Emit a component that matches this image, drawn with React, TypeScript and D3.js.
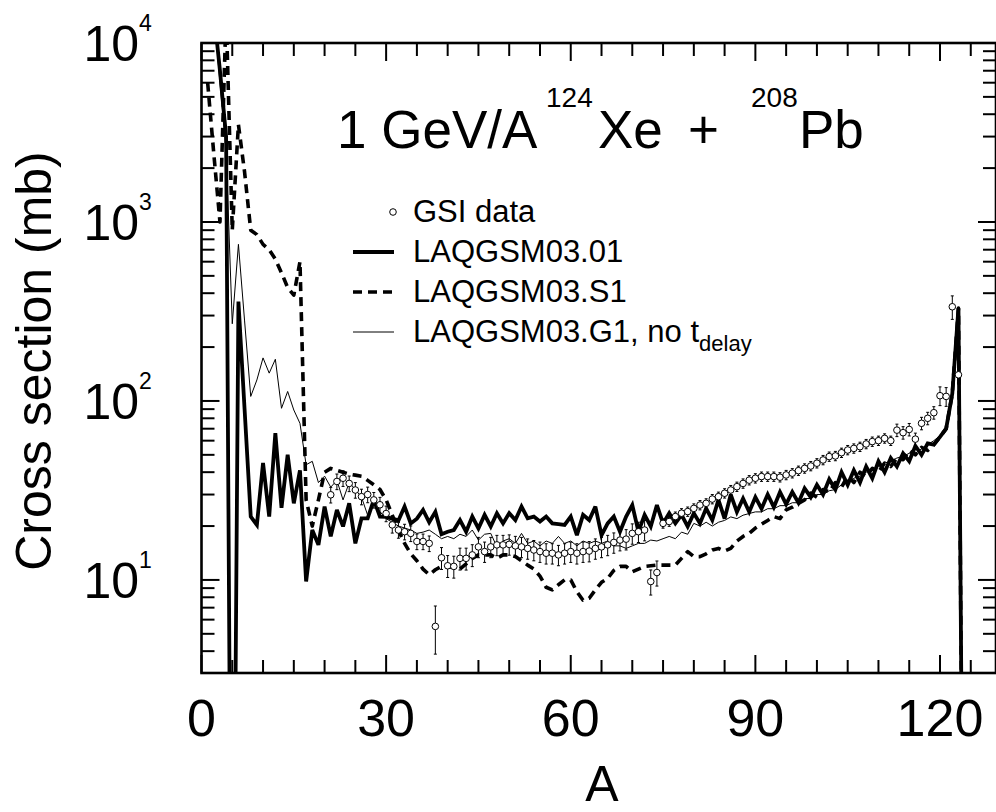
import React from "react";
import * as d3 from "d3";

// Mass numbers of the model curves (A = 1 ... 124)
const MASS_NUMBERS: number[] = d3.range(1, 125);

// LAQGSM03.01 (thick solid)
const LAQGSM_0301: number[] = [
  30000, 15000, 7000, 3000, 0.01, 359, 90, 22.6, 20.3, 45,
  22.6, 66, 25.3, 50, 26.8, 41, 9.8, 19, 15.7, 25.7,
  17.5, 24.6, 19.9, 26.8, 16, 22.1, 22.1, 28, 22.6, 22.5,
  22, 21.5, 25.7, 20.7, 22, 24.6, 21, 24, 18, 18.6,
  19, 21.6, 18.6, 22.6, 19.4, 23.1, 19.9, 23.6, 20.7, 23.6,
  21.6, 25.7, 22.1, 22.6, 21.2, 22.6, 20.7, 20.5, 20.3, 22.6,
  17.8, 23.1, 21.6, 25.7, 17.8, 20.7, 22.6, 18.6, 22.6, 26.2,
  18.6, 23.1, 19.9, 26.2, 20.7, 23.6, 20.7, 23.1, 19.9, 23.6,
  20.7, 25.1, 21.6, 28, 22, 30, 24, 28.5, 24, 29,
  25, 30, 25.5, 31, 26.5, 31, 27, 32.5, 29, 34,
  30, 36.5, 32, 40, 34, 41, 35, 43, 37, 46,
  40, 48, 43, 51, 46, 56, 50, 58, 57, 63,
  70, 110, 330, 0.01,
];

// LAQGSM03.S1 (thick dashed)
const LAQGSM_S1: number[] = [
  6000, 2400, 1000, 15000, 900, 3500, 1900, 900, 850, 750,
  700, 620, 520, 430, 390, 600, 28, 20, 28, 40,
  42, 41, 40, 39, 38.5, 38, 36, 34, 32, 28,
  23, 19, 16, 14, 12.8, 11.5, 10.7, 11.4, 11.9, 11.9,
  11.7, 11.5, 12.3, 13.2, 13.8, 13.8, 13.8, 13.2, 13.8, 13.8,
  13.5, 12.8, 12.1, 11.5, 10.5, 9.1, 8.8, 9.4, 10, 10,
  8.6, 7.7, 7.9, 8.8, 9.7, 10.2, 11.3, 11.9, 11.9, 11.1,
  11.5, 11.9, 12.0, 12.1, 12.1, 12.1, 12.1, 13.2, 14.4, 13.5,
  13.5, 14.0, 14.7, 15.0, 14.5, 15, 16.5, 17.5, 18.2, 19.5,
  20.5, 21.5, 22.6, 22, 24.6, 25.5, 26.8, 28, 30.6, 29,
  32, 31, 35, 33, 38, 35, 40, 38, 42, 40,
  45, 43, 48, 47, 53, 50, 55, 53, 57, 63,
  70, 110, 330, 0.01,
];

// LAQGSM03.G1, no t_delay (thin solid)
const LAQGSM_G1: number[] = [
  30000, 15000, 6000, 2500, 270, 750, 280, 106, 131, 174,
  143, 171, 91, 113, 89, 75, 44, 46, 35, 38,
  33, 36, 28, 35, 32, 29, 23, 27, 24, 22,
  21, 20, 19.5, 19, 18.2, 18.5, 19, 18, 17, 17.5,
  17, 18, 17.5, 19, 16.7, 18, 18.2, 15.3, 16.5, 17,
  16, 18.2, 16, 16.5, 15.5, 16.5, 16, 17.5, 16, 16.5,
  15.5, 16.5, 16, 16.5, 16, 16.5, 15.5, 15.5, 15, 15.5,
  16, 16, 16.7, 16.5, 17, 17.5, 17, 18.5, 18, 20.7,
  20, 21, 20, 21, 21.5, 22.5, 22, 23, 23.5, 24,
  24, 25, 25, 26, 26, 27, 27, 28.5, 28.5, 30,
  30, 31.5, 32, 34, 35, 37, 38, 40, 41, 43,
  45, 46, 48, 49, 51, 51, 54, 57, 60, 64,
  69, 105, 320, 0.01,
];

// GSI data (A = 21 ... 123)
const GSI_A: number[] = d3.range(21, 124);
const GSI_VALUES: number[] = [
  29.9, 35.5, 37, 34.6, 31.8, 29.2, 30, 28, 26.3, 23.5,
  20.3, 19, 18.6, 18.2, 16.4, 16.4, 16.0, 5.5, 13.3, 12.0,
  11.9, 13.2, 13.2, 13.8, 15.3, 14.4, 15.3, 15.7, 15.7, 15.8,
  15.5, 15.3, 15.0, 14.7, 14.4, 14.1, 14.1, 13.8, 14.1, 14.4,
  14.1, 14.4, 14.5, 15.0, 15.3, 15.7, 16.2, 16.7, 16.9, 18.2,
  18.6, 19.0, 9.8, 11.0, 20.7, 21.2, 22.6, 23.6, 24.1, 25.1,
  26.2, 26.8, 28.3, 29.2, 30.5, 31.8, 33.2, 34.6, 36.1, 37.0,
  37.8, 37.8, 37.8, 37.5, 38.6, 39.5, 40.8, 42, 43.3, 44.9,
  46.8, 48.9, 49.3, 51.4, 53.2, 54.3, 55.5, 57.5, 59.3, 60,
  61.8, 60, 68.7, 66.5, 69.3, 61.2, 75, 80, 86, 107,
  106, 336, 140,
];
// relative errors in percent
const GSI_ERR_PCT: number[] = [
  10, 10, 10, 10, 10, 10, 10, 10, 10, 10,
  10, 10, 10, 10, 10, 10, 10, 30, 14, 14,
  14, 14, 14, 14, 13, 13, 13, 13, 13, 13,
  13, 13, 13, 13, 13, 13, 13, 13, 13, 13,
  13, 13, 13, 13, 13, 13, 13, 13, 13, 13,
  13, 13, 16, 16, 6, 6, 6, 6, 6, 6,
  6, 6, 6, 6, 6, 6, 6, 6, 6, 6,
  6, 6, 6, 6, 6, 6, 6, 6, 6, 6,
  6, 6, 6, 6, 6, 6, 6, 6, 6, 6,
  6, 6, 8, 8, 8, 8, 8, 8, 8, 12,
  12, 15, 10,
];

const X_TICK_LABELS: number[] = [0, 30, 60, 90, 120];
const Y_DECADE_EXPONENTS: number[] = [1, 2, 3, 4];

const LEGEND_LABELS: string[] = ["GSI data", "LAQGSM03.01", "LAQGSM03.S1", "LAQGSM03.G1, no t"];

const FONT = "'Liberation Sans', Arial, Helvetica, sans-serif";

export default function App() {
  const W = 996;
  const H = 812;
  const left = 201.5;
  const right = 996;
  const top = 43;
  const bottom = 673;

  const x = d3.scaleLinear().domain([0, 129.1]).range([left, right]);
  const y = d3.scaleLog().domain([3.02, 10000]).range([bottom, top]);

  const line = d3
    .line<[number, number]>()
    .x((d) => x(d[0]))
    .y((d) => y(d[1]));

  const series = (vals: number[]) => MASS_NUMBERS.map((a, i) => [a, vals[i]] as [number, number]);

  const xMinor = d3.range(0, 130, 5);
  const yTicks = y.ticks();
  const isMajorY = (v: number) => Math.abs(Math.log10(v) - Math.round(Math.log10(v))) < 1e-9;

  const majorLen = 18;
  const minorLen = 13;

  const legX0 = 353;
  const legX1 = 394;
  const legText = 413;
  const legBase = [222, 262, 302, 342];

  return (
    <svg width={W} height={H} style={{ display: "block", position: "absolute", left: 0, top: 0, background: "#fff" }} fontFamily={FONT}>
      <defs>
        <clipPath id="plot-clip">
          <rect x={left} y={top} width={right - left} height={bottom - top} />
        </clipPath>
      </defs>
      <rect x={0} y={0} width={W} height={H} fill="#fff" />

      {/* ticks */}
      <g stroke="#000" strokeWidth={2}>
        {xMinor.map((v) => {
          const len = v % 30 === 0 ? majorLen : minorLen;
          const px = x(v);
          return (
            <g key={"xt" + v}>
              <line x1={px} x2={px} y1={bottom} y2={bottom - len} />
              <line x1={px} x2={px} y1={top} y2={top + len} />
            </g>
          );
        })}
        {yTicks.map((v) => {
          const len = isMajorY(v) ? majorLen : minorLen;
          const py = y(v);
          return (
            <g key={"yt" + v}>
              <line x1={left} x2={left + len} y1={py} y2={py} />
              <line x1={right} x2={right - len} y1={py} y2={py} />
            </g>
          );
        })}
      </g>

      {/* model curves */}
      <g clipPath="url(#plot-clip)" fill="none" stroke="#000">
        <path d={line(series(LAQGSM_G1)) || ""} strokeWidth={1} strokeLinejoin="miter" />
        <path d={line(series(LAQGSM_S1)) || ""} strokeWidth={3.6} strokeDasharray="9,6" strokeLinejoin="round" />
        <path d={line(series(LAQGSM_0301)) || ""} strokeWidth={3.8} strokeLinejoin="miter" strokeMiterlimit={3} />
      </g>

      {/* data */}
      <g clipPath="url(#plot-clip)">
        {GSI_A.map((a, i) => {
          const v = GSI_VALUES[i];
          const e = (v * GSI_ERR_PCT[i]) / 100;
          const px = x(a);
          const y1 = y(v + e);
          const y2 = y(Math.max(v - e, 0.01));
          return (
            <g key={"d" + a} stroke="#000" strokeWidth={1}>
              <line x1={px} x2={px} y1={y1} y2={y2} />
              <line x1={px - 1.5} x2={px + 1.5} y1={y1} y2={y1} />
              <line x1={px - 1.5} x2={px + 1.5} y1={y2} y2={y2} />
              <circle cx={px} cy={y(v)} r={3.3} fill="#fff" />
            </g>
          );
        })}
      </g>

      {/* frame */}
      <rect x={left} y={top} width={right - left} height={bottom - top} fill="none" stroke="#000" strokeWidth={2.6} />

      {/* x tick labels */}
      {X_TICK_LABELS.map((v) => (
        <text key={"xl" + v} x={x(v)} y={736} fontSize={52} textAnchor="middle" fill="#000">
          {v}
        </text>
      ))}
      {/* y tick labels */}
      {Y_DECADE_EXPONENTS.map((k) => {
        const py = y(Math.pow(10, k));
        return (
          <g key={"yl" + k} fill="#000">
            <text x={139} y={py + 18} fontSize={50} textAnchor="end">10</text>
            <text x={139} y={py - 12} fontSize={23}>{k}</text>
          </g>
        );
      })}

      {/* axis titles */}
      <text x={602} y={801} fontSize={50} textAnchor="middle" fill="#000">A</text>
      <text transform="translate(51,361) rotate(-90)" fontSize={50} textAnchor="middle" fill="#000">
        Cross section (mb)
      </text>

      {/* title */}
      <text y={148} fontSize={53} fill="#000">
        <tspan x={337}>1 GeV/A</tspan>
        <tspan x={546} y={107} fontSize={28}>124</tspan>
        <tspan x={598} y={148}>Xe</tspan>
        <tspan x={688}>+</tspan>
        <tspan x={751} y={107} fontSize={28}>208</tspan>
        <tspan x={799} y={148}>Pb</tspan>
      </text>

      {/* legend */}
      <g fill="#000" fontSize={31}>
        <circle cx={393} cy={legBase[0] - 10} r={3.3} fill="#fff" stroke="#000" strokeWidth={1} />
        <line x1={legX0} x2={legX1} y1={legBase[1] - 10} y2={legBase[1] - 10} stroke="#000" strokeWidth={3.8} />
        <line x1={legX0} x2={legX1} y1={legBase[2] - 10} y2={legBase[2] - 10} stroke="#000" strokeWidth={3.6} strokeDasharray="9,6" />
        <line x1={legX0} x2={legX1} y1={legBase[3] - 10} y2={legBase[3] - 10} stroke="#000" strokeWidth={1} />
        {LEGEND_LABELS.map((lab, i) => (
          <text key={"lg" + i} x={legText} y={legBase[i]}>
            {lab}
            {i === 3 ? (
              <tspan fontSize={22} dy={9}>delay</tspan>
            ) : null}
          </text>
        ))}
      </g>
    </svg>
  );
}
